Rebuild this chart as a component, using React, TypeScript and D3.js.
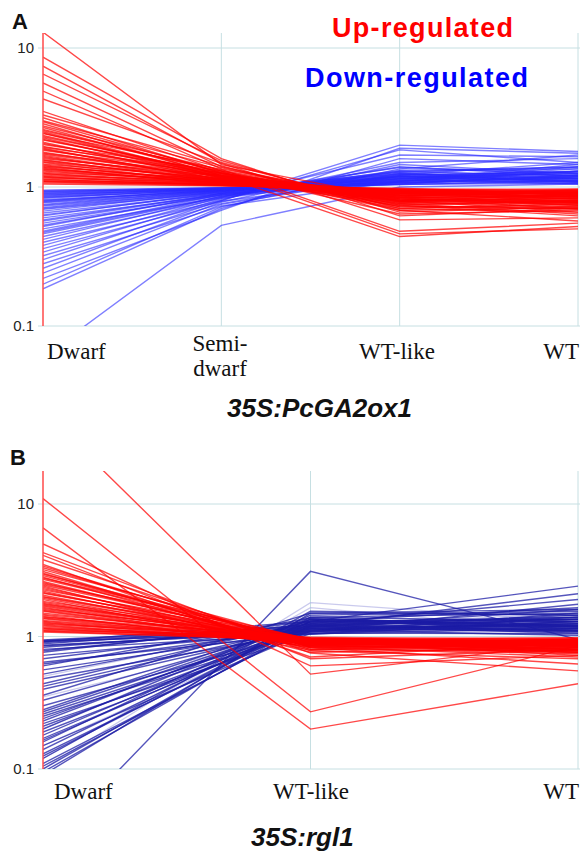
import React from "react";
import * as d3 from "d3";

// categories (x axes)
const catsA = ["Dwarf", "Semi-dwarf", "WT-like", "WT"];
const catsB = ["Dwarf", "WT-like", "WT"];

// y ticks (log scale)
const yTicks = [0.1, 1, 10];
const yTickLabels = ["0.1", "1", "10"];

// panel A: up-regulated genes (Dwarf, Semi-dwarf, WT-like, WT)
const upA: number[][] = [
  [13, 1.45, 0.82, 0.78],
  [8.6, 1.6, 0.62, 0.7],
  [7.4, 1.5, 0.7, 0.66],
  [6.5, 1.55, 0.66, 0.72],
  [5.6, 1.4, 0.74, 0.62],
  [4.9, 1.35, 0.8, 0.75],
  [4.3, 1.48, 0.58, 0.6],
  [3.5, 1.3, 0.76, 0.8],
  [3.3, 1.42, 0.68, 0.57],
  [3.15, 1.25, 0.84, 0.86],
  [3.0, 1.38, 0.72, 0.7],
  [2.95, 1.27, 0.79, 0.83],
  [2.85, 1.2, 0.88, 0.82],
  [2.75, 1.32, 0.78, 0.9],
  [2.68, 1.22, 0.86, 0.77],
  [2.6, 1.28, 0.64, 0.68],
  [2.55, 1.3, 0.72, 0.73],
  [2.5, 1.18, 0.9, 0.85],
  [2.45, 1.16, 0.93, 0.91],
  [2.42, 1.34, 0.48, 0.55],
  [2.35, 1.22, 0.82, 0.74],
  [2.3, 1.25, 0.77, 0.86],
  [2.25, 1.15, 0.92, 0.88],
  [2.2, 1.2, 0.84, 0.69],
  [2.18, 1.26, 0.75, 0.78],
  [2.1, 1.12, 0.86, 0.92],
  [2.06, 1.17, 0.81, 0.8],
  [2.02, 1.3, 0.46, 0.5],
  [1.96, 1.2, 0.8, 0.66],
  [1.93, 1.26, 0.68, 0.71],
  [1.9, 1.1, 0.94, 0.9],
  [1.87, 1.13, 0.9, 0.87],
  [1.84, 1.24, 0.7, 0.76],
  [1.78, 1.14, 0.87, 0.95],
  [1.75, 1.21, 0.74, 0.79],
  [1.72, 1.18, 0.78, 0.72],
  [1.69, 1.1, 0.89, 0.93],
  [1.66, 1.08, 0.95, 0.88],
  [1.63, 1.15, 0.82, 0.76],
  [1.6, 1.2, 0.44, 0.52],
  [1.57, 1.09, 0.92, 0.84],
  [1.55, 1.12, 0.83, 0.8],
  [1.52, 1.14, 0.79, 0.9],
  [1.5, 1.06, 0.93, 0.94],
  [1.46, 1.16, 0.73, 0.7],
  [1.44, 1.07, 0.91, 0.82],
  [1.42, 1.1, 0.88, 0.84],
  [1.4, 1.12, 0.84, 0.87],
  [1.38, 1.04, 0.96, 0.97],
  [1.36, 1.06, 0.93, 0.77],
  [1.34, 1.14, 0.76, 0.64],
  [1.32, 1.1, 0.87, 0.91],
  [1.3, 1.08, 0.9, 0.86],
  [1.27, 1.12, 0.8, 0.78],
  [1.25, 1.07, 0.91, 0.85],
  [1.24, 1.05, 0.94, 0.92],
  [1.21, 1.1, 0.85, 0.74],
  [1.19, 1.05, 0.93, 0.89],
  [1.18, 1.03, 0.97, 0.95],
  [1.16, 1.08, 0.88, 0.82],
  [1.14, 1.03, 0.96, 0.91],
  [1.13, 1.04, 0.92, 0.9],
  [1.11, 1.06, 0.9, 0.96],
  [1.1, 1.04, 0.94, 0.85],
  [1.09, 1.02, 0.98, 0.88],
  [1.07, 1.05, 0.86, 0.8],
  [1.05, 1.02, 0.95, 0.93],
];

// panel A: down-regulated genes
const downA: number[][] = [
  [0.06, 0.53, 1.0, 1.05],
  [0.185, 0.7, 1.6, 1.45],
  [0.2, 0.72, 1.35, 1.7],
  [0.22, 0.68, 1.9, 1.75],
  [0.24, 0.75, 1.2, 1.3],
  [0.26, 0.78, 1.45, 1.25],
  [0.28, 0.73, 1.1, 1.4],
  [0.3, 0.8, 2.0, 1.8],
  [0.32, 0.76, 1.25, 1.15],
  [0.34, 0.82, 1.5, 1.6],
  [0.36, 0.79, 1.15, 1.2],
  [0.38, 0.84, 1.3, 1.35],
  [0.4, 0.8, 1.85, 1.5],
  [0.42, 0.86, 1.08, 1.1],
  [0.44, 0.83, 1.22, 1.28],
  [0.46, 0.85, 1.4, 1.2],
  [0.47, 0.86, 1.2, 1.15],
  [0.48, 0.88, 1.12, 1.45],
  [0.5, 0.84, 1.7, 1.65],
  [0.52, 0.9, 1.18, 1.12],
  [0.53, 0.88, 1.1, 1.3],
  [0.55, 0.87, 1.32, 1.38],
  [0.57, 0.89, 1.28, 1.2],
  [0.58, 0.9, 1.05, 1.22],
  [0.6, 0.88, 1.26, 1.08],
  [0.62, 0.92, 1.15, 1.3],
  [0.63, 0.9, 1.08, 1.12],
  [0.65, 0.9, 1.38, 1.25],
  [0.67, 0.93, 1.1, 1.15],
  [0.69, 0.91, 1.22, 1.5],
  [0.7, 0.92, 1.18, 1.24],
  [0.71, 0.94, 1.05, 1.06],
  [0.73, 0.92, 1.3, 1.2],
  [0.74, 0.94, 1.24, 1.1],
  [0.75, 0.95, 1.14, 1.35],
  [0.77, 0.93, 1.2, 1.1],
  [0.78, 0.95, 1.1, 1.28],
  [0.79, 0.96, 1.08, 1.18],
  [0.8, 0.95, 1.15, 1.15],
  [0.81, 0.94, 1.28, 1.4],
  [0.83, 0.97, 1.12, 1.05],
  [0.84, 0.96, 1.06, 1.22],
  [0.85, 0.95, 1.18, 1.25],
  [0.86, 0.97, 1.2, 1.08],
  [0.87, 0.98, 1.04, 1.12],
  [0.88, 0.97, 1.12, 1.14],
  [0.89, 0.96, 1.24, 1.16],
  [0.9, 0.98, 1.08, 1.18],
  [0.91, 0.98, 1.1, 1.3],
  [0.92, 0.99, 1.14, 1.06],
  [0.93, 0.97, 1.16, 1.08],
  [0.94, 0.98, 1.04, 1.1],
  [0.95, 0.99, 1.06, 1.2],
];

// panel B: up-regulated genes (Dwarf, WT-like, WT)
const upB: number[][] = [
  [50, 0.52, 0.9],
  [11, 0.27, 0.85],
  [6.6, 0.2, 0.44],
  [5.0, 0.6, 0.72],
  [4.3, 0.75, 0.55],
  [4.1, 0.68, 0.8],
  [3.8, 0.82, 0.62],
  [3.5, 0.7, 0.9],
  [3.4, 0.83, 0.8],
  [3.3, 0.86, 0.75],
  [3.2, 0.92, 0.87],
  [3.1, 0.78, 0.68],
  [3.0, 0.8, 0.93],
  [2.95, 0.9, 0.85],
  [2.88, 0.88, 0.76],
  [2.8, 0.8, 0.78],
  [2.75, 0.95, 0.84],
  [2.7, 0.92, 0.95],
  [2.6, 0.84, 0.7],
  [2.55, 0.86, 0.9],
  [2.5, 0.95, 0.88],
  [2.45, 0.91, 0.78],
  [2.4, 0.76, 0.82],
  [2.35, 0.84, 0.86],
  [2.3, 0.88, 0.92],
  [2.25, 0.96, 0.93],
  [2.2, 0.82, 0.74],
  [2.15, 0.89, 0.81],
  [2.12, 0.94, 0.86],
  [2.05, 0.86, 0.96],
  [2.0, 0.93, 0.89],
  [1.98, 0.9, 0.78],
  [1.94, 0.85, 0.83],
  [1.9, 0.79, 0.88],
  [1.84, 0.96, 0.8],
  [1.81, 0.9, 0.9],
  [1.78, 0.88, 0.93],
  [1.75, 0.95, 0.76],
  [1.72, 0.92, 0.72],
  [1.69, 0.88, 0.88],
  [1.66, 0.83, 0.86],
  [1.63, 0.93, 0.94],
  [1.6, 0.97, 0.9],
  [1.57, 0.9, 0.83],
  [1.55, 0.87, 0.76],
  [1.5, 0.93, 0.97],
  [1.47, 0.96, 0.91],
  [1.45, 0.85, 0.82],
  [1.42, 0.89, 0.86],
  [1.4, 0.98, 0.88],
  [1.38, 0.94, 0.79],
  [1.36, 0.9, 0.94],
  [1.32, 0.94, 0.8],
  [1.3, 0.92, 0.93],
  [1.28, 0.88, 0.9],
  [1.26, 0.97, 0.87],
  [1.24, 0.96, 0.98],
  [1.22, 0.9, 0.91],
  [1.2, 0.91, 0.84],
  [1.17, 0.97, 0.92],
  [1.15, 0.95, 0.83],
  [1.14, 0.93, 0.87],
  [1.11, 0.99, 0.95],
  [1.1, 0.93, 0.89],
  [1.08, 0.95, 0.9],
];

// panel B: down-regulated genes
const downB: number[][] = [
  [0.025, 3.1, 0.95],
  [0.09, 1.5, 1.6],
  [0.095, 1.3, 2.4],
  [0.1, 1.4, 1.3],
  [0.105, 1.22, 1.4],
  [0.11, 1.2, 2.1],
  [0.12, 1.55, 1.45],
  [0.125, 1.32, 1.15],
  [0.13, 1.25, 1.9],
  [0.14, 1.35, 1.2],
  [0.15, 1.1, 1.75],
  [0.16, 1.45, 1.55],
  [0.165, 1.25, 1.3],
  [0.17, 1.2, 1.35],
  [0.18, 1.3, 1.65],
  [0.19, 1.15, 1.25],
  [0.2, 1.4, 1.5],
  [0.21, 1.18, 1.45],
  [0.22, 1.05, 1.15],
  [0.23, 1.35, 1.18],
  [0.24, 1.28, 1.4],
  [0.25, 1.12, 1.25],
  [0.26, 1.18, 1.6],
  [0.27, 1.28, 1.35],
  [0.28, 1.35, 1.22],
  [0.3, 1.1, 1.3],
  [0.33, 1.22, 1.1],
  [0.36, 1.5, 1.45],
  [0.4, 1.15, 1.2],
  [0.42, 1.2, 1.1],
  [0.44, 1.3, 1.35],
  [0.48, 1.08, 1.5],
  [0.52, 1.25, 1.12],
  [0.56, 1.12, 1.28],
  [0.6, 1.38, 1.18],
  [0.62, 1.15, 1.22],
  [0.64, 1.05, 1.4],
  [0.68, 1.2, 1.06],
  [0.72, 1.1, 1.25],
  [0.76, 1.3, 1.15],
  [0.78, 1.24, 1.3],
  [0.8, 1.04, 1.3],
  [0.83, 1.16, 1.08],
  [0.85, 1.1, 1.16],
  [0.86, 1.08, 1.2],
  [0.88, 1.22, 1.12],
  [0.9, 1.12, 1.02],
  [0.91, 1.3, 1.2],
  [0.92, 1.06, 1.05],
  [0.93, 1.14, 1.35],
  [0.94, 1.18, 1.1],
];

// panel B: faint (lavender) down-regulated lines
const faintB: number[][] = [
  [0.1, 1.8, 1.3],
  [0.12, 1.65, 1.1],
  [0.15, 1.2, 1.5],
  [0.2, 1.45, 1.0],
  [0.35, 1.1, 1.4],
  [0.5, 1.3, 1.2],
];

const SANS = "Liberation Sans, Arial, Helvetica, sans-serif";
const SERIF = "Liberation Serif, Times New Roman, serif";
const GRID = "#c6dfe2";

type PanelProps = {
  id: string;
  cats: string[];
  up: number[][];
  down: number[][];
  faint?: number[][];
  top: number;
  y10: number;
  y01: number;
  downColor: string;
  downOpacity: number;
};

function Panel({ id, cats, up, down, faint, top, y10, y01, downColor, downOpacity }: PanelProps) {
  const left = 43;
  const right = 578;
  const x = d3.scalePoint<string>().domain(cats).range([left, right]);
  const y = d3.scaleLog().domain([0.1, 10]).range([y01, y10]);
  const line = d3
    .line<number>()
    .x((_, i) => x(cats[i]) as number)
    .y((d) => y(d));

  return (
    <g>
      <defs>
        <clipPath id={id}>
          <rect x={left} y={top} width={right - left} height={y01 - top} />
        </clipPath>
      </defs>
      {/* grid */}
      {yTicks.map((t) => (
        <line key={t} x1={left - 5} x2={580} y1={y(t)} y2={y(t)} stroke={GRID} strokeWidth={1} />
      ))}
      {cats.slice(1).map((c) => (
        <line key={c} x1={x(c)} x2={x(c)} y1={top} y2={y01} stroke={GRID} strokeWidth={1} />
      ))}
      {yTicks.map((t, i) => (
        <text
          key={t}
          x={34}
          y={y(t)}
          dy="0.35em"
          textAnchor="end"
          fontFamily={SANS}
          fontSize={15}
          fill="#222"
        >
          {yTickLabels[i]}
        </text>
      ))}
      <g clipPath={`url(#${id})`} fill="none">
        {(faint || []).map((d, i) => (
          <path key={"f" + i} d={line(d) || ""} stroke="#b4b4e6" strokeOpacity={0.7} strokeWidth={1.2} />
        ))}
        {down.map((d, i) => (
          <path key={"d" + i} d={line(d) || ""} stroke={downColor} strokeOpacity={downOpacity} strokeWidth={1.4} />
        ))}
        {up.map((d, i) => (
          <path key={"u" + i} d={line(d) || ""} stroke="#ff0000" strokeOpacity={0.72} strokeWidth={1.4} />
        ))}
      </g>
      {/* red axis line at Dwarf */}
      <line x1={left} x2={left} y1={top} y2={y01} stroke="#ff4a4a" strokeWidth={1.5} />
    </g>
  );
}

export default function App() {
  return (
    <svg
      width={581}
      height={852}
      style={{ position: "absolute", left: 0, top: 0, background: "#fff" }}
    >
      <rect width={581} height={852} fill="#fff" />
      {/* Panel A */}
      <text x={12} y={29} fontFamily={SANS} fontWeight="bold" fontSize={22} fill="#111">
        A
      </text>
      <Panel
        id="clipA"
        cats={catsA}
        up={upA}
        down={downA}
        top={33}
        y10={48}
        y01={326}
        downColor="#2a2aff"
        downOpacity={0.6}
      />
      <text x={332} y={37} fontFamily={SANS} fontWeight="bold" fontSize={27} fill="#ff0000" textLength={181}>
        Up-regulated
      </text>
      <text x={305} y={87} fontFamily={SANS} fontWeight="bold" fontSize={27} fill="#0000ff" textLength={223}>
        Down-regulated
      </text>
      <g fontFamily={SERIF} fontSize={23} fill="#111">
        <text x={47} y={359}>Dwarf</text>
        <text x={220} y={351} textAnchor="middle">Semi-</text>
        <text x={220} y={376} textAnchor="middle">dwarf</text>
        <text x={397} y={359} textAnchor="middle">WT-like</text>
        <text x={579} y={359} textAnchor="end">WT</text>
      </g>
      <text x={227} y={417} fontFamily={SANS} fontWeight="bold" fontStyle="italic" fontSize={26} fill="#111">
        35S:PcGA2ox1
      </text>

      {/* Panel B */}
      <text x={10} y={465} fontFamily={SANS} fontWeight="bold" fontSize={22} fill="#111">
        B
      </text>
      <Panel
        id="clipB"
        cats={catsB}
        up={upB}
        down={downB}
        faint={faintB}
        top={471}
        y10={504}
        y01={769}
        downColor="#1c1ca6"
        downOpacity={0.75}
      />
      <g fontFamily={SERIF} fontSize={23} fill="#111">
        <text x={54} y={799}>Dwarf</text>
        <text x={311} y={799} textAnchor="middle">WT-like</text>
        <text x={579} y={799} textAnchor="end">WT</text>
      </g>
      <text x={251} y={846} fontFamily={SANS} fontWeight="bold" fontStyle="italic" fontSize={26} fill="#111">
        35S:rgl1
      </text>
    </svg>
  );
}
